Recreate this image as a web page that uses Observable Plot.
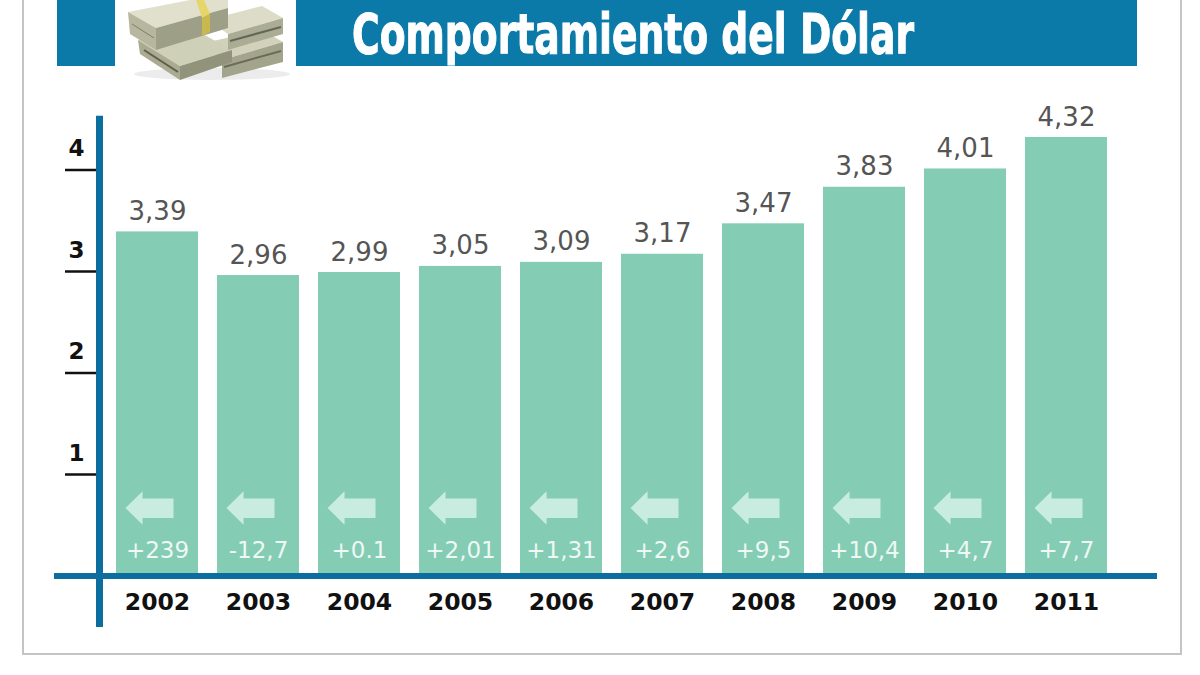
<!DOCTYPE html>
<html>
<head>
<meta charset="utf-8">
<script src="https://cdn.jsdelivr.net/npm/d3@7"></script>
<script src="https://cdn.jsdelivr.net/npm/@observablehq/plot@0.6"></script>
<style>
  html, body { margin: 0; padding: 0; background: #fff; }
  #page { position: relative; width: 1200px; height: 675px; overflow: hidden; background: #fff; }
  #border { position: absolute; left: 22px; top: -10px; width: 1156px; height: 663px; border: 2px solid #c4c4c4; border-top: none; }
  #header { position: absolute; left: 0; top: 0; width: 1200px; height: 80px; }
  #chart { position: absolute; left: 0; top: 80px; width: 1200px; height: 595px; }
</style>
</head>
<body>
<div id="page">
  <div id="border"></div>
  <div id="header">
    <svg width="1200" height="80" xmlns="http://www.w3.org/2000/svg">
      <rect x="57" y="0" width="58" height="66" fill="#0b7aa8"/>
      <rect x="296" y="0" width="841" height="66" fill="#0b7aa8"/>
      <text x="352" y="53" textLength="562" lengthAdjust="spacingAndGlyphs"
        font-family="'Liberation Sans Narrow', 'DejaVu Sans Condensed', 'Roboto', sans-serif"
        font-weight="bold" font-size="56" fill="#ffffff" stroke="#ffffff" stroke-width="1">Comportamiento del Dólar</text>
      <!-- money stacks decoration -->
      <ellipse cx="212" cy="74" rx="78" ry="6" fill="#ececec"/>
      <!-- bottom right stack -->
      <polygon points="200,44 262,30 283,42 222,60" fill="#d2d2bc"/>
      <polygon points="222,60 283,42 283,62 222,78" fill="#a3a48c"/>
      <line x1="224" y1="67" x2="281" y2="51" stroke="#6b6c58" stroke-width="2"/>
      <!-- bottom left stack -->
      <polygon points="138,40 188,26 232,50 180,66" fill="#cfd0b8"/>
      <polygon points="138,40 180,66 180,80 140,54" fill="#aaab92"/>
      <polygon points="180,66 232,50 232,62 180,80" fill="#92937b"/>
      <line x1="144" y1="50" x2="178" y2="72" stroke="#5d5e4c" stroke-width="2"/>
      <!-- right top stack -->
      <polygon points="208,20 262,6 283,18 228,34" fill="#dcdcc8"/>
      <polygon points="228,34 283,18 283,34 228,50" fill="#abac94"/>
      <line x1="230" y1="41" x2="281" y2="27" stroke="#65665a" stroke-width="2"/>
      <!-- top left stack -->
      <polygon points="128,12 190,0 228,0 228,8 156,28" fill="#e0e0cc"/>
      <polygon points="128,12 156,28 156,50 130,34" fill="#b6b79e"/>
      <polygon points="156,28 228,8 228,28 156,50" fill="#9e9f87"/>
      <line x1="132" y1="24" x2="154" y2="38" stroke="#7d7e68" stroke-width="1"/>
      <polygon points="196,0 204,0 210,14 202,18" fill="#e6d66a"/>
      <polygon points="202,18 210,14 210,32 202,36" fill="#c9b84e"/>
    </svg>
  </div>
  <div id="chart"></div>
</div>
<script>
// ---- data ----
const years = ["2002", "2003", "2004", "2005", "2006", "2007", "2008", "2009", "2010", "2011"];
const values = [3.39, 2.96, 2.99, 3.05, 3.09, 3.17, 3.47, 3.83, 4.01, 4.32];
const valueLabels = ["3,39", "2,96", "2,99", "3,05", "3,09", "3,17", "3,47", "3,83", "4,01", "4,32"];
const changeLabels = ["+239", "-12,7", "+0.1", "+2,01", "+1,31", "+2,6", "+9,5", "+10,4", "+4,7", "+7,7"];
const yTicks = [1, 2, 3, 4];

const data = years.map((year, i) => ({
  year,
  value: values[i],
  label: valueLabels[i],
  change: changeLabels[i]
}));

// left-pointing block arrow symbol
const arrowSymbol = {
  draw(ctx, size) {
    const r = Math.sqrt(size / Math.PI);
    ctx.moveTo(-r, 0);
    ctx.lineTo(-0.29 * r, -0.7 * r);
    ctx.lineTo(-0.29 * r, -0.4 * r);
    ctx.lineTo(r, -0.4 * r);
    ctx.lineTo(r, 0.42 * r);
    ctx.lineTo(-0.29 * r, 0.42 * r);
    ctx.lineTo(-0.29 * r, 0.7 * r);
    ctx.closePath();
  }
};

const axisBlue = "#0c6e9f";

const chart = Plot.plot({
  width: 1200,
  height: 595,
  marginLeft: 99,
  marginRight: 76.5,
  marginTop: 38.75,
  marginBottom: 99.5,
  style: { fontFamily: "'DejaVu Sans', Verdana, sans-serif", background: "transparent", overflow: "visible" },
  x: { domain: years, paddingInner: 0.192, paddingOuter: 0.143, axis: null, label: null },
  y: { domain: [0, 4.5], axis: null, label: null },
  marks: [
    Plot.barY(data, { x: "year", y: "value", fill: "#84ccb3" }),
    Plot.dot(data, { x: "year", y: 0, dx: -8, dy: -68, r: 24, symbol: arrowSymbol, fill: "#c8ece0", stroke: "none" }),
    Plot.text(data, { x: "year", y: 0, dy: -25, text: "change", fontSize: 23, fill: "#eef8f4" }),
    Plot.text(data, { x: "year", y: "value", dy: -12, lineAnchor: "bottom", text: "label", fontSize: 26, fill: "#555555" }),
    Plot.axisX({ tickSize: 0, tickPadding: 17, fontSize: 23.5, fontWeight: "bold", fill: "#111111" }),
    Plot.axisY({ ticks: yTicks, tickSize: 34, fill: "none", stroke: "#111111", strokeWidth: 2.5 }),
    Plot.axisY({ ticks: yTicks, tickSize: 0, tickPadding: 15, dy: -21, fontSize: 23, fontWeight: "bold", fill: "#111111", tickFormat: d => String(d) }),
    Plot.ruleY([0], { stroke: axisBlue, strokeWidth: 6, insetLeft: -45, insetRight: -33.5 }),
    Plot.frame({ anchor: "left", stroke: axisBlue, strokeWidth: 7, insetBottom: -47.5 })
  ]
});

document.getElementById("chart").appendChild(chart);
</script>
</body>
</html>
